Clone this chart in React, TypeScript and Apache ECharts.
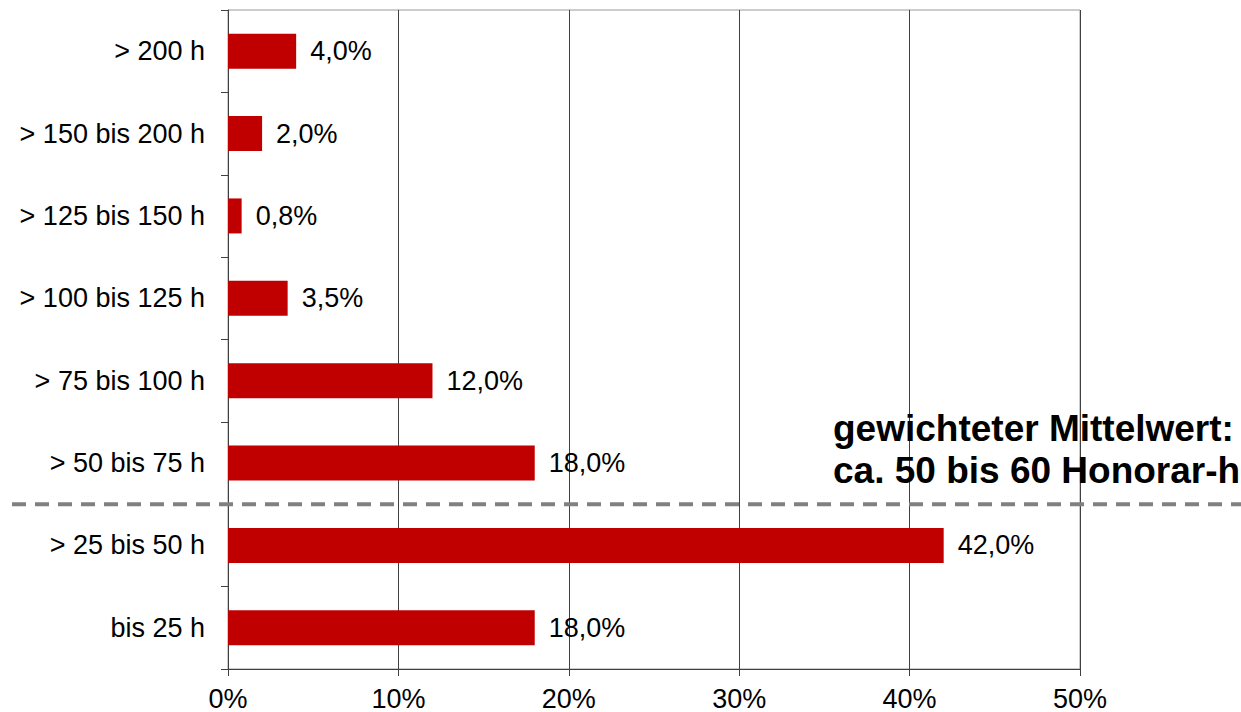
import React, { useEffect, useRef } from "react";
import * as echarts from "echarts";

const categories = [
  "bis 25 h",
  "> 25 bis 50 h",
  "> 50 bis 75 h",
  "> 75 bis 100 h",
  "> 100 bis 125 h",
  "> 125 bis 150 h",
  "> 150 bis 200 h",
  "> 200 h",
];
const values = [18.0, 42.0, 18.0, 12.0, 3.5, 0.8, 2.0, 4.0];
const annotationLines = ["gewichteter Mittelwert:", "ca. 50 bis 60 Honorar-h"];
const FONT = "'Liberation Sans', Arial, sans-serif";

export default function App() {
  const ref = useRef<HTMLDivElement>(null);
  useEffect(() => {
    document.body.style.margin = "0";
    if (!ref.current) return;
    const chart = echarts.init(ref.current, null, { renderer: "svg" });
    chart.setOption({
      animation: false,
      backgroundColor: "#fff",
      textStyle: { fontFamily: FONT },
      grid: {
        left: 228,
        right: 161,
        top: 10,
        bottom: 43,
        show: true,
        borderColor: "#999",
        borderWidth: 1,
        containLabel: false,
        outerBoundsMode: "none",
      },
      xAxis: {
        type: "value",
        min: 0,
        max: 50,
        interval: 10,
        axisLine: { show: true, lineStyle: { color: "#404040", width: 1 } },
        axisTick: { show: true, length: 7, lineStyle: { color: "#404040" } },
        splitLine: { show: true, lineStyle: { color: "#404040", width: 1 } },
        axisLabel: {
          formatter: "{value}%",
          fontSize: 27,
          color: "#000",
          margin: 16,
          fontFamily: FONT,
        },
      },
      yAxis: {
        type: "category",
        data: categories,
        axisLine: { show: true, lineStyle: { color: "#404040", width: 1 } },
        axisTick: { show: true, length: 7, lineStyle: { color: "#404040" } },
        axisLabel: { fontSize: 27, color: "#000", margin: 23, fontFamily: FONT },
      },
      series: [
        {
          type: "bar",
          data: values,
          barWidth: 35,
          itemStyle: { color: "#C00000" },
          label: {
            show: true,
            position: "right",
            distance: 14,
            fontSize: 27,
            color: "#000",
            fontFamily: FONT,
            formatter: (p: any) => p.value.toFixed(1).replace(".", ",") + "%",
          },
        },
      ],
    });
    const y1 = chart.convertToPixel({ yAxisIndex: 0 }, categories[1]) as number;
    const y2 = chart.convertToPixel({ yAxisIndex: 0 }, categories[2]) as number;
    const yb = (y1 + y2) / 2;
    chart.setOption({
      graphic: [
        {
          type: "line",
          shape: { x1: 12, y1: yb, x2: 1241, y2: yb },
          style: { stroke: "#808080", lineWidth: 4, lineDash: [14, 9] },
          z: 100,
        },
        {
          type: "text",
          x: 833,
          y: 428,
          style: {
            text: annotationLines[0],
            font: `bold 37px ${FONT}`,
            fill: "#000",
            verticalAlign: "middle",
          },
          z: 100,
        },
        {
          type: "text",
          x: 833,
          y: 470,
          style: {
            text: annotationLines[1],
            font: `bold 37px ${FONT}`,
            fill: "#000",
            verticalAlign: "middle",
          },
          z: 100,
        },
      ],
    });
    return () => chart.dispose();
  }, []);
  return <div ref={ref} style={{ width: 1241, height: 712 }} />;
}
